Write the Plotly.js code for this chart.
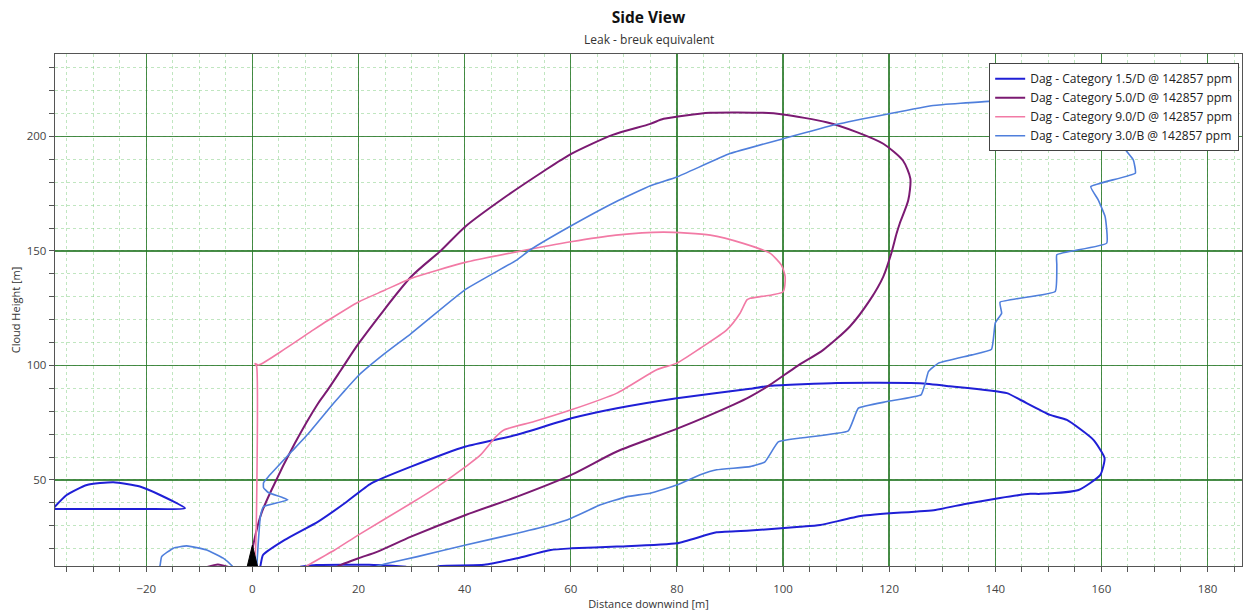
<!DOCTYPE html>
<html>
<head>
<meta charset="utf-8">
<script src="https://cdn.plot.ly/plotly-3.0.1.min.js"></script>
<style>html,body{margin:0;padding:0;background:#fff;}#chart{width:1244px;height:615px;}</style>
</head>
<body>
<div id="chart"></div>
<script>
// ---- Data ----
const seriesNames = [
  "Dag - Category 1.5/D @ 142857 ppm",
  "Dag - Category 5.0/D @ 142857 ppm",
  "Dag - Category 9.0/D @ 142857 ppm",
  "Dag - Category 3.0/B @ 142857 ppm"
];

// Category 1.5/D main contour
const c15MainX = [1.3,1.5,2.0,6.1,12.4,17.4,22.4,29.9,40.2,49.9,60.1,68.7,80,93.8,97.6,110.2,125.8,131.4,142.2,144.7,150.3,153.5,158.5,160.6,159.8,155.7,148.5,146.6,140.9,134.3,128.7,114.9,107,103.2,93.8,87.5,80,68.7,60.1,56.2,49.9,43.7,35.5,34];
const c15MainY = [11.5,12.4,17.2,23.8,31.8,39.8,48.5,55.8,64.6,69.7,76.9,81.3,85.7,89.8,91.1,92.3,92.2,90.9,87.9,85,78.4,76.2,67.5,59.5,52.2,45.6,43.9,43.9,42.1,39.5,36.9,34.3,30.3,29.5,27.9,27.1,22.3,20.9,20.1,19.4,15.8,12.9,12.4,11.5];
// Category 1.5/D upwind blob
const c15BlobX = [-37.6,-35,-31.2,-26.2,-21.2,-17.4,-12.7,-20,-30,-37.6];
const c15BlobY = [37.4,43.4,47.8,49.0,47.1,43.4,37.6,37.3,37.3,37.3];
// Category 1.5/D ground segment
const c15GroundX = [9,12,22,29];
const c15GroundY = [12.1,12.8,12.9,12.1];

// Category 5.0/D main contour
const c50MainX = [-0.3,-0.2,0.5,1.7,3.6,8.0,12.4,14.1,16.7,20,29.9,35.5,40.1,47.3,54.8,60,67.9,75,77.5,86.3,96.3,100,108.2,113.9,118.9,122.6,124.0,123.6,122,121.4,120.4,118.9,116.4,112.6,107.6,102.6,97.6,93.8,90.7,80.3,68.7,60.1,49.9,40.2,29.9,23.6,20,16.7,15.5];
const c50MainY = [11.5,16.5,25.2,35.4,45.6,66,83.5,89,98,109.5,138.7,150.1,160.6,173.0,184.7,192.3,200.7,205.5,207.7,210.3,210.3,209.6,206.2,201.9,196.8,189.5,181.6,172.1,162,157.6,148.9,138.8,128.6,117,106.8,99.6,91.6,86.4,82.9,72.6,62.4,52.2,42.7,34.7,25.2,18.7,15.8,12.9,11.5];
// Category 5.0/D small ground bit
const c50BitX = [-8.5,-6.5,-4.5];
const c50BitY = [12.0,13.1,12.0];

// Category 9.0/D contour
const c90X = [0.3,0.6,0.8,0.8,0.5,1.2,6.2,11.5,14.3,20,24.9,29.9,40.1,49.8,60,68.5,77.5,86.3,92.5,97.6,99.7,100.4,100,93.8,93.2,91.9,89.4,84.4,80,76.2,68.7,60.1,53.1,47.4,45.9,43,40.2,34.9,29.9,20,15.5,10.2,9.5];
const c90Y = [11.5,20,40,99.5,100.8,100.2,107.3,115.5,119.7,127.7,132.8,138,145,149.6,154,156.9,158.2,156.9,153.3,148.9,143.8,138.8,132.2,129.3,128.6,122.8,115.5,107.5,101,98.1,87.9,80.6,75.5,71.8,68.9,60.9,55.8,47.1,39.8,26,19.4,12.4,11.5];

// Category 3.0/B main contour
const c30MainX = [0.7,0.8,1.1,1.5,2.1,6.7,3.0,2.1,2.1,3.0,7.4,10.6,15.3,17.4,20,24.9,29.9,40.1,49.8,52.3,60,68.5,75,80,90,100,110,120,128.3,138.7,150,163,165,164.1,166,166.4,158,159.4,160.7,161,151.6,151.6,151.3,140.9,141.2,140,139.3,135.6,129.3,127.4,126.8,126.0,119.6,114.2,112.3,103.2,99.1,96.6,93.8,87.5,84.4,80,75,70.6,65.6,60.1,56.2,49.9,40.2,31.1,24.9,23.6,22.5];
const c30MainY = [11.5,12.1,22.3,34,38.3,41.3,44.5,46.6,48.8,51.4,62.4,70.4,83.5,89.0,95.6,105.1,113.9,133.1,146,150.4,160.9,171.5,178.5,182.3,192.5,199,205.2,209.9,213.5,215.3,216,216,205,195.7,189.8,184,178.1,172.3,165,153.4,148.3,144,132.3,127.6,122.8,118.5,107.1,104.6,101.0,97.3,92.2,87.1,84.2,81.3,71.4,68.3,66.6,57.9,55.8,54.4,52.2,47.8,44.2,42.7,39.1,33.3,30.3,26.7,21.6,16.5,13.3,12.4,11.5];
// Category 3.0/B upwind arc
const c30ArcX = [-17.6,-17.4,-17.1,-14.9,-12.4,-8.6,-5.5,-3.9,-3.5];
const c30ArcY = [11.5,12.6,16.5,20.2,21.2,19.4,15.8,12.6,11.5];

// Source marker (triangle at the release point)
const sourceX = [-1.1, 0, 1.1];
const sourceY = [11.0, 21.5, 11.0];

// Axis ticks
const xTickVals = [-20,0,20,40,60,80,100,120,140,160,180];
const yTickVals = [50,100,150,200];

// ---- Build traces ----
function join(parts){ // join segments with null gaps
  const out=[]; parts.forEach((p,i)=>{ if(i>0) out.push(null); out.push(...p); }); return out;
}
const colors = ["#1f1fd6","#7b1a72","#f27aa5","#4f7fdc"];
const widths = [2,2,1.6,1.6];
const smooth = [0.5,0.7,0.6,0.35];

const traces = [
  {x: join([c15MainX,c15BlobX,c15GroundX]), y: join([c15MainY,c15BlobY,c15GroundY]), name: seriesNames[0]},
  {x: join([c50MainX,c50BitX]), y: join([c50MainY,c50BitY]), name: seriesNames[1]},
  {x: c90X, y: c90Y, name: seriesNames[2]},
  {x: join([c30MainX,c30ArcX]), y: join([c30MainY,c30ArcY]), name: seriesNames[3]}
].map((t,i)=>Object.assign(t,{type:'scatter',mode:'lines',connectgaps:false,cliponaxis:true,
   line:{color:colors[i],width:widths[i],shape:'spline',smoothing:smooth[i]}}));

traces.push({x:sourceX,y:sourceY,type:'scatter',mode:'lines',fill:'toself',fillcolor:'#000',
  line:{color:'#000',width:1},showlegend:false,hoverinfo:'skip'});

const majorGrid = 'rgba(40,120,40,0.85)';
const minorGrid = 'rgba(130,205,130,0.5)';
const fontFam = '"Open Sans", "Noto Sans", sans-serif';

const layout = {
  width:1244, height:615,
  margin:{l:55, r:2, t:54, b:49, pad:0},
  paper_bgcolor:'#fff', plot_bgcolor:'#fff',
  font:{family:fontFam, size:11, color:'#333'},
  title:{text:'<b>Side View</b>', font:{size:15.5,color:'#111',family:fontFam},
    x:0.5, xref:'paper', xanchor:'center', y:1-12/615, yref:'container', yanchor:'top'},
  annotations:[{text:'Leak - breuk equivalent', xref:'paper', yref:'paper', x:0.5, y:1+15/512,
    xanchor:'center', yanchor:'middle', showarrow:false, font:{size:12,color:'#333',family:fontFam}}],
  showlegend:true,
  legend:{x:0.787, y:0.982, xanchor:'left', yanchor:'top', bgcolor:'#fff',
    bordercolor:'#444', borderwidth:1, font:{size:12,color:'#222',family:fontFam},
    tracegroupgap:0, itemwidth:30},
  xaxis:{range:[-37.2,186.5], tickvals:xTickVals, ticks:'outside', ticklen:5, tickcolor:'#555',
    ticklabelstandoff:7,
    showgrid:true, gridcolor:majorGrid, gridwidth:1.3, zeroline:false,
    showline:true, linecolor:'#555', linewidth:1.3, mirror:true,
    tickfont:{size:11.5,color:'#444'},
    minor:{dtick:5, tick0:0, ticks:'outside', ticklen:5, tickcolor:'#555', showgrid:true, gridcolor:minorGrid, griddash:'dot', gridwidth:1},
    title:{text:'Distance downwind [m]', font:{size:11,color:'#333'}, standoff:5}},
  yaxis:{range:[12.4,236], tickvals:yTickVals, ticks:'outside', ticklen:5, tickcolor:'#555',
    showgrid:true, gridcolor:majorGrid, gridwidth:1.3, zeroline:false,
    showline:true, linecolor:'#555', linewidth:1.3, mirror:true,
    tickfont:{size:11.5,color:'#444'},
    minor:{dtick:10, tick0:0, ticks:'outside', ticklen:5, tickcolor:'#555', showgrid:true, gridcolor:minorGrid, griddash:'dot', gridwidth:1},
    title:{text:'Cloud Height [m]', font:{size:11,color:'#333'}, standoff:3}}
};

Plotly.newPlot('chart', traces, layout, {staticPlot:true, displayModeBar:false});
</script>
</body>
</html>
